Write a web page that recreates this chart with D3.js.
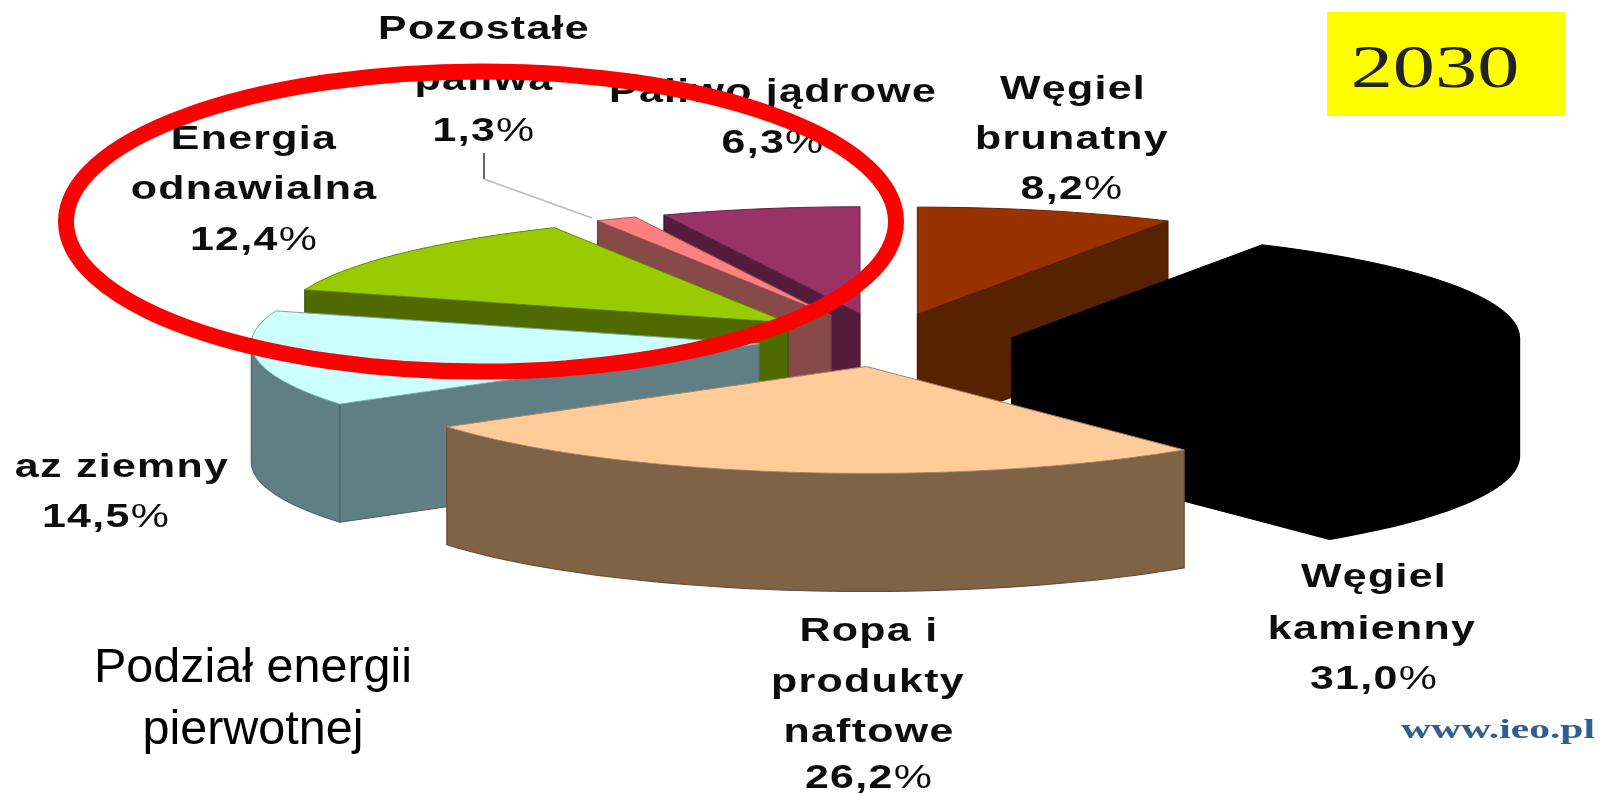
<!DOCTYPE html>
<html>
<head>
<meta charset="utf-8">
<script src="https://cdn.jsdelivr.net/npm/d3@7"></script>
<style>
  html, body { margin: 0; padding: 0; background: #fff; }
  svg { display: block; }
</style>
</head>
<body>
<div id="chart"></div>
<script>
// Slices go clockwise from 12 o'clock
var categories = ["Węgiel brunatny", "Węgiel kamienny", "Ropa i produkty naftowe", "Gaz ziemny",
  "Energia odnawialna", "Pozostałe paliwa", "Paliwo jądrowe"];
var shares = [8.2, 31.0, 26.2, 14.5, 12.4, 1.3, 6.3];
var topColors = ["#993300", "#000000", "#ffcc99", "#ccffff", "#99cc00", "#ff8080", "#993366"];
var sideColors = ["#572000", "#000000", "#7f6347", "#5f7f85", "#4f6b00", "#884848", "#541c3e"];
var shareLabels = ["8,2", "31,0", "26,2", "14,5", "12,4", "1,3", "6,3"];
var yearLabel = "2030";
var captionLines = ["Podział energii", "pierwotnej"];
var sourceLabel = "www.ieo.pl";

var width = 1601, height = 796;
var explode = 0.25;   // how far the slices are pulled out, in radii
var depth = 118;

var svg = d3.select("#chart").append("svg")
  .attr("width", width)
  .attr("height", height);

// Source is a soft low-res screenshot, a small blur gets closer to it
var defs = svg.append("defs");
defs.append("filter").attr("id", "soft")
  .attr("x", "-5%").attr("y", "-5%").attr("width", "110%").attr("height", "110%")
  .append("feGaussianBlur").attr("stdDeviation", 0.7);

var root = svg.append("g").attr("filter", "url(#soft)");

// Plan view of the pie (unit circle) onto the flat ellipse
var xScale = d3.scaleLinear().domain([-1, 1]).range([885 - 508, 885 + 508]);
var yScale = d3.scaleLinear().domain([-1, 1]).range([340 - 107, 340 + 107]);

var pie = d3.pie().sort(null).startAngle(0).endAngle(2 * Math.PI);
var arcs = pie(shares).map(function (d, i) {
  var mid = (d.startAngle + d.endAngle) / 2;
  return {
    index: i,
    a0: d.startAngle,
    a1: d.endAngle,
    ox: explode * Math.sin(mid),
    oy: -explode * Math.cos(mid)
  };
});

var line = d3.line();

function rim(s, a) {
  return [xScale(s.ox + Math.sin(a)), yScale(s.oy - Math.cos(a))];
}
function apex(s) {
  return [xScale(s.ox), yScale(s.oy)];
}
function down(p) {
  return [p[0], p[1] + depth];
}
function rimPoints(s, a0, a1) {
  var n = Math.max(2, Math.ceil((a1 - a0) / 0.03));
  return d3.range(n + 1).map(function (k) { return rim(s, a0 + (a1 - a0) * k / n); });
}

// Back to front
var drawOrder = [0, 6, 5, 4, 3, 1, 2];

drawOrder.forEach(function (idx) {
  var s = arcs[idx];
  var g = root.append("g");
  var side = sideColors[idx];
  var edge = d3.color(side).darker(0.6).formatHex();

  function wall(points) {
    g.append("path")
      .attr("d", line(points) + "Z")
      .attr("fill", side)
      .attr("stroke", edge)
      .attr("stroke-width", 1.2)
      .attr("stroke-linejoin", "round");
  }

  // radial walls, only the ones turned to the viewer
  if (Math.sin(s.a0) < -1e-6) {
    wall([apex(s), rim(s, s.a0), down(rim(s, s.a0)), down(apex(s))]);
  }
  if (Math.sin(s.a1) > 1e-6) {
    wall([apex(s), rim(s, s.a1), down(rim(s, s.a1)), down(apex(s))]);
  }

  // outer wall, front half of the ellipse only
  var f0 = Math.max(s.a0, Math.PI / 2), f1 = Math.min(s.a1, Math.PI * 1.5);
  if (f1 > f0) {
    var upper = rimPoints(s, f0, f1);
    wall(upper.concat(upper.map(down).reverse()));
  }

  // top face
  g.append("path")
    .attr("d", line([apex(s)].concat(rimPoints(s, s.a0, s.a1))) + "Z")
    .attr("fill", topColors[idx])
    .attr("stroke", d3.color(topColors[idx]).darker(1.2).formatHex())
    .attr("stroke-width", 1)
    .attr("stroke-linejoin", "round");
});

// Labels: the font in the source is stretched sideways
var stretch = 1.3;
function labelLine(x, y, name, pct) {
  var t = root.append("text")
    .attr("transform", "translate(" + x + "," + y + ") scale(" + stretch + ",1)")
    .attr("text-anchor", "middle")
    .attr("font-family", "'Liberation Sans', Arial, sans-serif")
    .attr("font-size", 33)
    .attr("letter-spacing", 1)
    .attr("fill", "#111");
  if (pct) {
    t.append("tspan").attr("font-weight", "bold").text(name);
    t.append("tspan").text("%");
  } else {
    t.attr("font-weight", "bold").text(name);
  }
}

labelLine(484, 39, "Pozostałe");
labelLine(484, 90, "paliwa");
labelLine(484, 141, shareLabels[5], true);

labelLine(773, 102, "Paliwo jądrowe");
labelLine(773, 153, shareLabels[6], true);

labelLine(1073, 99, "Węgiel");
labelLine(1072, 149, "brunatny");
labelLine(1072, 199, shareLabels[0], true);

labelLine(254, 149, "Energia");
labelLine(254, 199, "odnawialna");
labelLine(254, 250, shareLabels[4], true);

labelLine(122, 477, "az ziemny");
labelLine(106, 527, shareLabels[3], true);

labelLine(1374, 587, "Węgiel");
labelLine(1372, 639, "kamienny");
labelLine(1374, 689, shareLabels[1], true);

labelLine(869, 641, "Ropa i");
labelLine(868, 692, "produkty");
labelLine(869, 742, "naftowe");
labelLine(869, 788, shareLabels[2], true);

// Leader for the small slice
root.append("path").attr("d", line([[484, 153], [484, 179]]))
  .attr("stroke", "#333").attr("stroke-width", 1.5).attr("fill", "none");
root.append("path").attr("d", line([[484, 179], [592, 218]]))
  .attr("stroke", "#bbb").attr("stroke-width", 1.5).attr("fill", "none");

// Year box
root.append("rect")
  .attr("x", 1327).attr("y", 12)
  .attr("width", 238).attr("height", 104)
  .attr("fill", "#ffff00");
root.append("text")
  .attr("transform", "translate(1435,87) scale(1.36,1)")
  .attr("text-anchor", "middle")
  .attr("font-family", "'Liberation Serif', serif")
  .attr("font-size", 62)
  .attr("fill", "#222")
  .text(yearLabel);

// Source
root.append("text")
  .attr("x", 1401).attr("y", 738)
  .attr("font-family", "'Liberation Serif', serif")
  .attr("font-weight", "bold")
  .attr("font-size", 27)
  .attr("fill", "#2f5f8f")
  .attr("textLength", 194)
  .attr("lengthAdjust", "spacingAndGlyphs")
  .text(sourceLabel);

// Red ring around the renewables part, on top of the chart
svg.append("ellipse")
  .attr("cx", 481).attr("cy", 221.5)
  .attr("rx", 415).attr("ry", 150)
  .attr("fill", "none")
  .attr("stroke", "#ff0000")
  .attr("stroke-width", 16);

// Caption stays sharp, it was typed over the picture
svg.selectAll("text.caption")
  .data(captionLines)
  .enter().append("text")
  .attr("class", "caption")
  .attr("x", 253)
  .attr("y", function (d, i) { return 682 + i * 62; })
  .attr("text-anchor", "middle")
  .attr("font-family", "'Liberation Sans', Arial, sans-serif")
  .attr("font-size", 48.5)
  .attr("fill", "#000")
  .text(function (d) { return d; });
</script>
</body>
</html>
